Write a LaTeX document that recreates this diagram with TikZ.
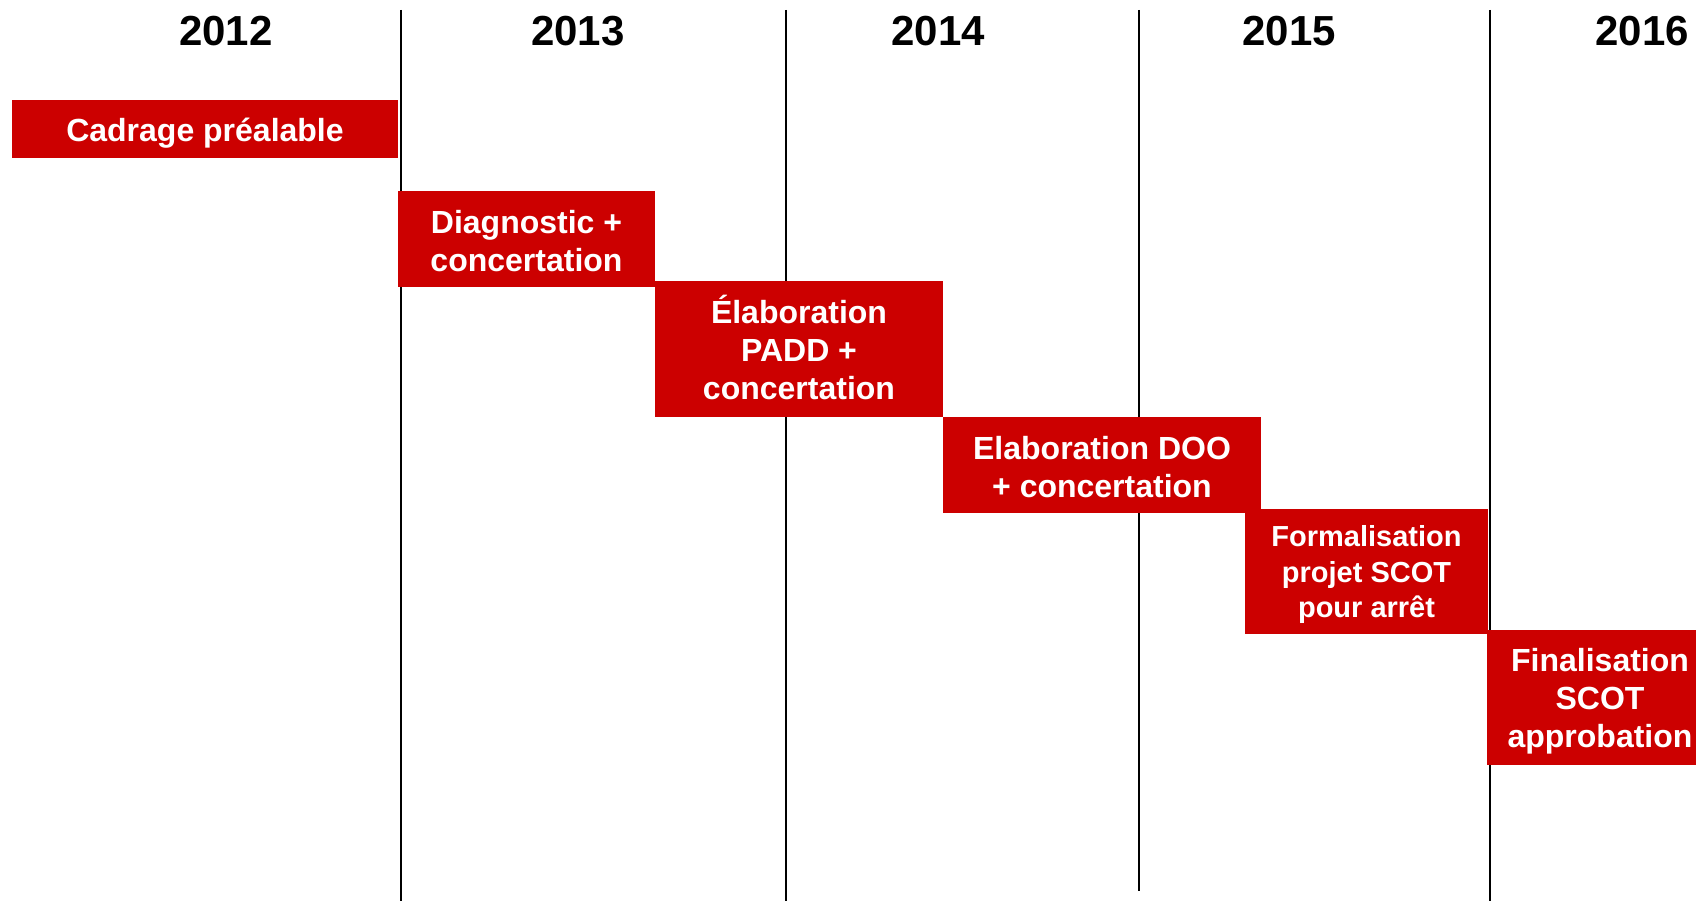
\documentclass[tikz,border=0pt]{standalone}
\usepackage{fontspec}
\setmainfont{Liberation Sans}
\definecolor{boxred}{RGB}{204,0,0}
\begin{document}
\begin{tikzpicture}[x=1pt,y=-1pt,
  year/.style={font=\fontsize{42}{50}\selectfont\bfseries, anchor=base, inner sep=0pt},
  sep/.style={line width=2.2pt, black},
  phase/.style={fill=boxred, draw=none, inner sep=0pt},
  phasetext/.style={text=white, align=center, inner sep=0pt,
    font=\fontsize{32}{38}\selectfont\bfseries},
  phasesmall/.style={phasetext, font=\fontsize{29}{35.5}\selectfont\bfseries}]
\useasboundingbox (0,0) rectangle (1696,901);
\fill[white] (0,0) rectangle (1696,901);
\begin{scope}
\clip (0,0) rectangle (1696,901);
% years
\node[year] (y2012) at (226,46) {2012};
\node[year] (y2013) at (578,46) {2013};
\node[year] (y2014) at (938,46) {2014};
\node[year] (y2015) at (1289,46) {2015};
\node[year] (y2016) at (1642,46) {2016};
% separators
\coordinate (s1t) at (401,10); \coordinate (s1b) at (401,901);
\coordinate (s2t) at (786,10); \coordinate (s2b) at (786,901);
\coordinate (s3t) at (1139,10); \coordinate (s3b) at (1139,891);
\coordinate (s4t) at (1490,10); \coordinate (s4b) at (1490,901);
\draw[sep] (s1t) -- (s1b);
\draw[sep] (s2t) -- (s2b);
\draw[sep] (s3t) -- (s3b);
\draw[sep] (s4t) -- (s4b);
% phases
\node[phase, minimum width=386pt, minimum height=58pt] (cad) at (205,129) {};
\node[phasetext] (cadt) at ([yshift=-4pt]cad.center) {Cadrage préalable};
\node[phase, minimum width=257pt, minimum height=96pt] (diag) at (526.5,239) {};
\node[phasetext] (diagt) at ([yshift=-2pt]diag.center) {Diagnostic +\\concertation};
\node[phase, minimum width=288pt, minimum height=136pt] (padd) at (799,349) {};
\node[phasetext] (paddt) at ([yshift=2pt]padd.center) {Élaboration\\PADD +\\concertation};
\node[phase, minimum width=318pt, minimum height=96pt] (doo) at (1102,465) {};
\node[phasetext] (doot) at ([yshift=-2.5pt]doo.center) {Elaboration DOO\\+ concertation};
\node[phase, minimum width=243pt, minimum height=125pt] (form) at (1366.5,571.5) {};
\node[phasesmall] (formt) at ([yshift=-3pt]form.center) {Formalisation\\projet SCOT\\pour arrêt};
\node[phase, minimum width=226pt, minimum height=135pt] (fin) at (1600,697.5) {};
\node[phasetext] (fint) at ([yshift=-3.5pt]fin.center) {Finalisation\\SCOT\\approbation};
\end{scope}
\end{tikzpicture}
\end{document}
